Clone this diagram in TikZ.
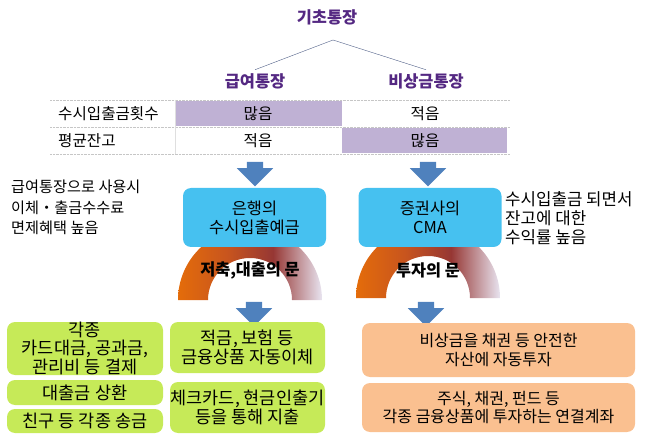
\documentclass[tikz,border=0pt]{standalone}
\usepackage{fontspec}
\setmainfont{Noto Sans CJK KR}
\usetikzlibrary{shapes.arrows, positioning}

\definecolor{titlepurple}{RGB}{84,40,130}
\definecolor{cellpurple}{RGB}{191,177,212}
\definecolor{boxblue}{RGB}{70,193,240}
\definecolor{arrowblue}{RGB}{79,129,189}
\definecolor{boxgreen}{RGB}{198,234,88}
\definecolor{boxpeach}{RGB}{250,192,144}
\definecolor{doororange}{RGB}{228,108,10}
\definecolor{doormid}{RGB}{200,85,30}
\definecolor{doorred}{RGB}{150,55,52}
\definecolor{doorlight}{RGB}{232,228,240}
\definecolor{treeline}{RGB}{80,95,135}

\pgfdeclarehorizontalshading{doorshade}{100bp}{color(0bp)=(doororange); color(25bp)=(doororange); color(42bp)=(doormid); color(58bp)=(doorred); color(75bp)=(doorlight); color(100bp)=(doorlight)}

\begin{document}
\begin{tikzpicture}[x=1pt, y=1pt,
    every node/.style={font=\fontsize{15.6}{18}\selectfont},
    head/.style={font=\fontsize{16.4}{19}\selectfont\bfseries, text=titlepurple},
    cell/.style={minimum width=166pt, minimum height=25pt, inner sep=0pt},
    bluebox/.style={fill=boxblue, rounded corners=8pt, minimum width=143pt, minimum height=59pt, align=center, inner sep=0pt, font=\fontsize{16.4}{19}\selectfont},
    greenbox/.style={fill=boxgreen, rounded corners=8pt, minimum width=156pt, align=center, inner sep=0pt, font=\fontsize{17.5}{17.5}\selectfont},
    peachbox/.style={fill=boxpeach, rounded corners=8pt, minimum width=273pt, align=center, inner sep=0pt, font=\fontsize{16}{18.5}\selectfont},
    blockarrow/.style={single arrow, fill=arrowblue, rotate=-90, minimum height=20pt, minimum width=36pt, single arrow head extend=10pt, inner sep=8pt},
    doorlabel/.style={font=\fontsize{16.3}{19}\selectfont\bfseries}]
    \useasboundingbox (0,0) rectangle (646,-441);

    % tree
    \node[head] (title) at (327,-17) {기초통장};
    \coordinate (apex) at (333,-40);
    \node[head] (salary) at (255,-81) {급여통장};
    \node[head] (emergency) at (426,-81) {비상금통장};
    \draw[treeline] (apex) -- (salary.north);
    \draw[treeline] (apex) -- (emergency.north);

    % table
    \fill[cellpurple] (175,-101) rectangle (342,-126.5);
    \fill[cellpurple] (342,-128) rectangle (507,-153.5);
    \draw[gray!45, densely dotted] (50,-100) -- (510,-100);
    \draw[gray!45, densely dotted] (50,-127) -- (510,-127);
    \draw[gray!45, densely dotted] (50,-154) -- (510,-154);
    \draw[gray!25] (175,-100) -- (175,-154);
    \node[anchor=west, inner sep=0pt] (r1label) at (58,-113.5) {수시입출금횟수};
    \node[anchor=west, inner sep=0pt] (r2label) at (58,-140.5) {평균잔고};
    \node[cell] (r1a) at (258,-113.5) {많음};
    \node[cell] (r1b) at (425,-113.5) {적음};
    \node[cell] (r2a) at (258,-140.5) {적음};
    \node[cell] (r2b) at (425,-140.5) {많음};

    \node[blockarrow] (arrowa) at (255,-170) {};
    \node[blockarrow] (arrowb) at (428,-170) {};

    % doors
    \shade[shading=doorshade] (178,-300) arc[start angle=180, end angle=0, radius=72pt] -- (292,-300) arc[start angle=0, end angle=180, radius=42pt] -- cycle;
    \shade[shading=doorshade] (356,-298) arc[start angle=180, end angle=0, radius=72pt] -- (470,-298) arc[start angle=0, end angle=180, radius=42pt] -- cycle;
    \node[doorlabel] (doora) at (250,-270) {저축,대출의 문};
    \node[doorlabel] (doorb) at (428,-270) {투자의 문};

    \node[bluebox] (bank) at (254.5,-217.5) {은행의\\수시입출예금};
    \node[bluebox] (cma) at (430,-217.5) {증권사의\\CMA};

    \node[anchor=north west, align=left, inner sep=0pt, font=\fontsize{15.2}{20.5}\selectfont] (salarynote) at (11,-180) {급여통장으로 사용시\\이체・출금수수료\\면제혜택 높음};
    \node[anchor=north west, align=left, inner sep=0pt, font=\fontsize{16.8}{19}\selectfont] (cmanote) at (505,-191) {수시입출금 되면서\\잔고에 대한\\수익률 높음};

    \node[blockarrow] (arrowc) at (254,-310) {};
    \node[blockarrow] (arrowd) at (426,-310) {};

    % lower boxes
    \node[greenbox, minimum height=53pt] (pay) at (85,-348.5) {각종\\카드대금, 공과금,\\관리비 등 결제};
    \node[greenbox, minimum height=25pt] (loan) at (85,-392.5) {대출금 상환};
    \node[greenbox, minimum height=24pt] (send) at (85,-421) {친구 등 각종 송금};
    \node[greenbox, minimum width=155pt, minimum height=51pt] (auto) at (247.5,-347.5) {적금, 보험 등\\금융상품 자동이체};
    \node[greenbox, minimum width=155pt, minimum height=51pt] (spend) at (247.5,-407.5) {체크카드, 현금인출기\\등을 통해 지출};
    \node[peachbox, minimum height=54pt] (safe) at (498.5,-350) {비상금을 채권 등 안전한\\자산에 자동투자};
    \node[peachbox, minimum height=49pt] (link) at (498.5,-407.5) {주식, 채권, 펀드 등\\각종 금융상품에 투자하는 연결계좌};
\end{tikzpicture}
\end{document}
